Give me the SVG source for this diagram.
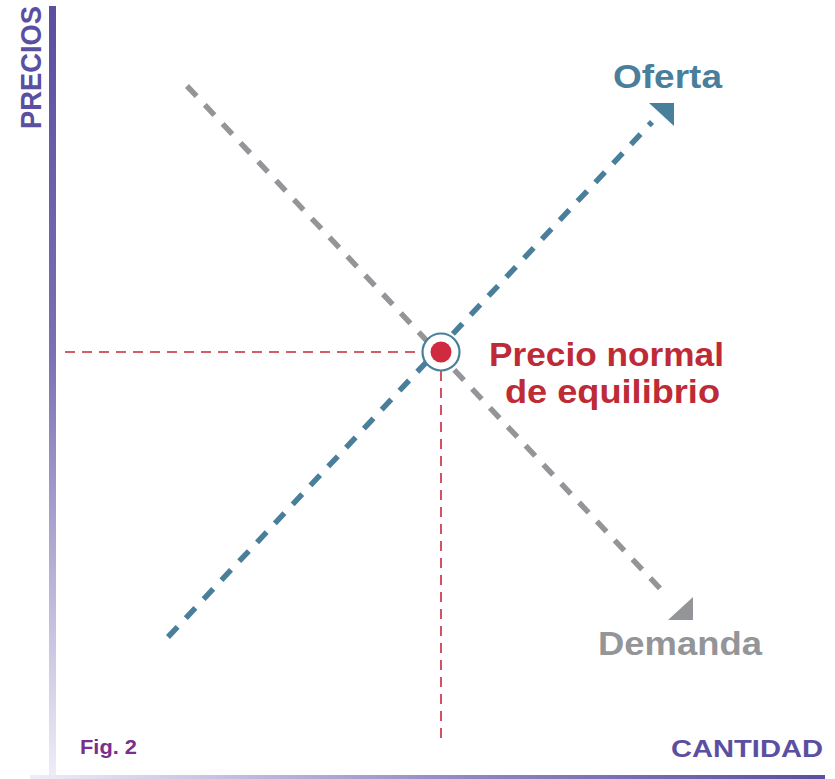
<svg xmlns="http://www.w3.org/2000/svg" width="835" height="779" viewBox="0 0 835 779">
<defs>
<linearGradient id="gv" x1="0" y1="0" x2="0" y2="1"><stop offset="0" stop-color="#5a4fa0"/><stop offset="0.45" stop-color="#7a70b4"/><stop offset="1" stop-color="#eeedf7"/></linearGradient>
<linearGradient id="gh" x1="0" y1="0" x2="1" y2="0"><stop offset="0" stop-color="#eeedf7"/><stop offset="0.55" stop-color="#8f87c0"/><stop offset="1" stop-color="#5a4fa0"/></linearGradient>
<style>
.t{font-family:"Liberation Sans","Open Sans",sans-serif;font-weight:700}
.dash{fill:none;stroke-width:5.5;stroke-dasharray:14 12}
.ref{fill:none;stroke:#c8283a;stroke-width:1.6;stroke-dasharray:10 7}
</style>
</defs>
<rect width="835" height="779" fill="#fff"/>
<g id="axes">
<rect x="49" y="6" width="7" height="771" fill="url(#gv)"/>
<rect x="30" y="775" width="795" height="4" fill="url(#gh)"/>
<text class="t" x="0" y="0" transform="translate(41,129) rotate(-90)" font-size="29" fill="#5a4fa0" textLength="123" lengthAdjust="spacingAndGlyphs">PRECIOS</text>
<text class="t" x="671" y="757" font-size="24" fill="#5a4fa0" textLength="152" lengthAdjust="spacingAndGlyphs">CANTIDAD</text>
<text class="t" x="80" y="754" font-size="21" fill="#7a2e8e" textLength="57" lengthAdjust="spacingAndGlyphs">Fig. 2</text>
</g>
<g id="connectors">
<line class="ref" x1="65" y1="352" x2="424" y2="352"/>
<line class="ref" x1="441" y1="371" x2="441" y2="740"/>
<line class="dash" stroke="#939598" x1="187" y1="86" x2="668" y2="597"/>
<polygon points="693,597 693,620 668,620" fill="#939598"/>
<line class="dash" stroke="#4a7f9c" x1="168" y1="637" x2="652" y2="122"/>
<polygon points="649,103 674,103 674,126" fill="#4a7f9c"/>
</g>
<g id="oferta">
<text class="t" x="613" y="88" font-size="33" fill="#4a7f9c" textLength="109" lengthAdjust="spacingAndGlyphs">Oferta</text>
</g>
<g id="demanda">
<text class="t" x="598" y="655" font-size="33" fill="#939598" textLength="164" lengthAdjust="spacingAndGlyphs">Demanda</text>
</g>
<g id="equilibrio">
<circle cx="441" cy="352" r="18.5" fill="#fff" stroke="#4a7f9c" stroke-width="2.2"/>
<circle cx="441" cy="352" r="10.5" fill="#d02a40"/>
<text class="t" font-size="33" fill="#be2a35"><tspan x="489" y="366" textLength="235" lengthAdjust="spacingAndGlyphs">Precio normal</tspan><tspan x="505" y="403" textLength="215" lengthAdjust="spacingAndGlyphs">de equilibrio</tspan></text>
</g>
</svg>
